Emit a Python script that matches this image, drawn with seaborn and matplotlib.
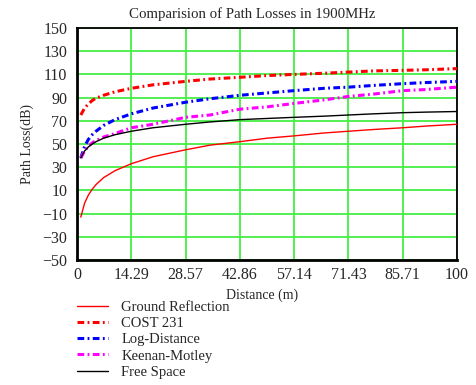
import matplotlib
matplotlib.use("Agg")
import matplotlib.pyplot as plt
import seaborn as sns
import pandas as pd

distance = [1, 2, 3, 4, 5, 7, 10, 14.29, 20, 28.57, 35, 42.86, 50, 57.14, 65, 71.43, 78, 85.71, 92, 100]
ground_reflection = [-13, -1, 6, 11, 15, 21, 27, 33, 39, 45, 49, 52, 55, 57, 59.5, 61, 62.5, 64, 65.5, 67]
cost231 = [75, 81, 84.5, 87.5, 89.5, 92, 95, 98, 101, 104, 106, 107.5, 109, 110, 111, 112, 113, 113.5, 114, 115]
log_distance = [38, 48, 54, 58, 61, 66, 71, 76, 81, 86, 89, 92, 94, 96, 98, 99, 100.5, 102, 103, 104]
keenan_motley = [38, 44, 48, 51, 53, 56, 59, 64, 67, 73, 75, 80, 82, 85, 88, 91, 93, 96, 97, 99]
free_space = [38, 44, 47.5, 50, 52, 55, 58, 61, 64, 67, 69, 71, 72, 73, 74, 75, 76, 77, 77.5, 78]

series_names = ["Ground Reflection", "COST 231", "Log-Distance", "Keenan-Motley", "Free Space"]
series_values = [ground_reflection, cost231, log_distance, keenan_motley, free_space]

x_ticks = [0, 14.29, 28.57, 42.86, 57.14, 71.43, 85.71, 100]
x_tick_labels = ["0", "14.29", "28.57", "42.86", "57.14", "71.43", "85.71", "100"]
y_ticks = [150, 130, 110, 90, 70, 50, 30, 10, -10, -30, -50]
y_tick_labels = ["150", "130", "110", "90", "70", "50", "30", "10", "\u221210", "\u221230", "\u221250"]

sns.set_style("white")
plt.rcParams["font.family"] = ["Liberation Serif", "DejaVu Serif"]
plt.rcParams["font.size"] = 11

dash = (0, (2.2, 1.1, 0.6, 1.1))
styles = {
    "Ground Reflection": dict(color="#ff0000", lw=1.0, ls="-"),
    "COST 231": dict(color="#ff0000", lw=2.5, ls=dash),
    "Log-Distance": dict(color="#0000ff", lw=2.5, ls=dash),
    "Keenan-Motley": dict(color="#ff00ff", lw=2.5, ls=dash),
    "Free Space": dict(color="#000000", lw=1.0, ls="-"),
}

fig = plt.figure(figsize=(4.77, 3.85), dpi=100)
ax = fig.add_axes([77 / 477, 1 - 260 / 385, 380 / 477, 232 / 385])

for name, vals in zip(series_names, series_values):
    df = pd.DataFrame({"d": distance, "v": vals})
    st = styles[name]
    sns.lineplot(data=df, x="d", y="v", ax=ax, color=st["color"], linewidth=st["lw"],
                 linestyle=st["ls"], label=name, legend=False, zorder=3)

ax.set_xlim(0, 100)
ax.set_ylim(-50, 150)
ax.set_xticks(x_ticks)
ax.set_xticklabels(x_tick_labels)
ax.set_yticks(y_ticks)
ax.set_yticklabels(y_tick_labels)
ax.tick_params(length=0, labelsize=11.5)
ax.tick_params(axis="x", pad=5)
ax.tick_params(axis="y", pad=7)
ax.grid(True, color="#44ee44", linewidth=1.3, zorder=1)
for s in ax.spines.values():
    s.set_color("black")
    s.set_linewidth(1.3)
ax.spines["left"].set_linewidth(2)
ax.spines["bottom"].set_linewidth(2)

fig.text(252 / 477, 1 - 14 / 385, "Comparision of Path Losses in 1900MHz", fontsize=10.7,
         ha="center", va="center")
ax.set_xlabel("Distance (m)", fontsize=10, labelpad=3)
ax.xaxis.set_label_coords((262.5 - 77) / 380, -0.125)
ax.set_ylabel("Path Loss(dB)", fontsize=10, labelpad=6)

h, l = ax.get_legend_handles_labels()
for hd in h:
    if hd.get_linewidth() > 2:
        hd.set_linewidth(2.2)
fig.legend(h, l, loc="upper left", bbox_to_anchor=(77 / 477, 1 - 301 / 385), frameon=False,
           fontsize=10.5, handlelength=2.15, handletextpad=0.9, labelspacing=0.2,
           borderpad=0, borderaxespad=0)

fig.savefig("out.png", dpi=100)
